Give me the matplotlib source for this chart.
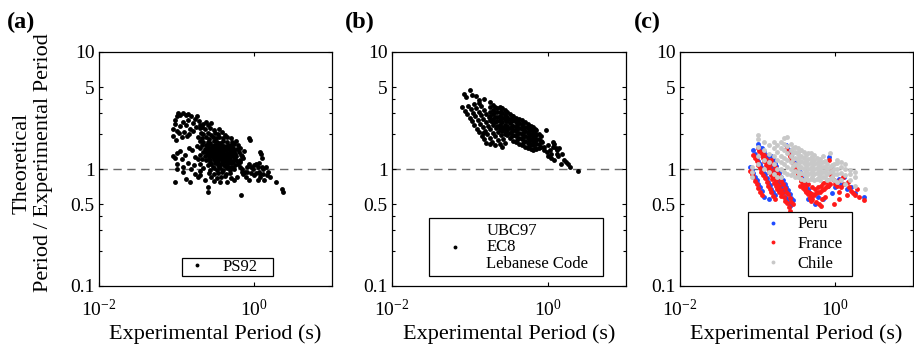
import matplotlib
matplotlib.use("Agg")
import matplotlib.pyplot as plt
from matplotlib.ticker import FixedLocator, FixedFormatter, NullFormatter, NullLocator

plt.rcParams['font.family'] = ['Liberation Serif', 'DejaVu Serif']
plt.rcParams['mathtext.fontset'] = 'custom'
plt.rcParams['mathtext.rm'] = 'Liberation Serif'
plt.rcParams['mathtext.it'] = 'Liberation Serif:italic'
plt.rcParams['mathtext.bf'] = 'Liberation Serif:bold'

# ---------------- data ----------------
# (a) PS92: experimental period (s) and theoretical/experimental ratio
ps92_tl_T = [0.095, 0.100, 0.105, 0.112, 0.120, 0.130, 0.140, 0.155, 0.170, 0.182,
             0.090, 0.096, 0.101, 0.110, 0.121, 0.131, 0.142, 0.150, 0.162, 0.192,
             0.091, 0.099, 0.106, 0.116, 0.126, 0.136, 0.146, 0.161, 0.176, 0.201]
ps92_tl_R = [2.60, 2.85, 3.00, 2.92, 3.02, 2.88, 2.95, 2.82, 2.70, 2.86,
             2.20, 2.42, 2.12, 2.31, 2.50, 2.38, 2.62, 2.18, 2.48, 2.58,
             1.92, 1.76, 2.02, 1.86, 2.08, 1.93, 2.01, 2.12, 2.30, 2.40]

ps92_left_T = [0.090, 0.094, 0.101, 0.109, 0.118, 0.128, 0.146, 0.158, 0.171, 0.183,
               0.100, 0.121, 0.139, 0.151, 0.168, 0.188, 0.094, 0.131, 0.150, 0.121,
               0.101, 0.171, 0.190, 0.201]
ps92_left_R = [1.30, 1.24, 1.36, 1.42, 1.21, 1.31, 1.52, 1.46, 1.26, 1.56,
               1.10, 1.05, 1.12, 1.00, 1.08, 1.21, 0.77, 0.82, 0.78, 0.95,
               1.00, 0.90, 0.86, 0.96]

ps92_core_T = [
    0.22, 0.25, 0.28, 0.24,
    0.20, 0.23, 0.27, 0.30, 0.35, 0.21,
    0.205, 0.22, 0.25, 0.28, 0.31, 0.34, 0.38, 0.42,
    0.19, 0.21, 0.24, 0.26, 0.29, 0.32, 0.35, 0.39, 0.44, 0.50,
    0.20, 0.22, 0.25, 0.27, 0.30, 0.33, 0.36, 0.40, 0.45, 0.52, 0.58,
    0.21, 0.24, 0.26, 0.29, 0.31, 0.34, 0.37, 0.41, 0.46, 0.50, 0.55, 0.62,
    0.20, 0.23, 0.25, 0.28, 0.30, 0.32, 0.35, 0.38, 0.42, 0.47, 0.53, 0.60, 0.66,
    0.22, 0.24, 0.27, 0.29, 0.31, 0.34, 0.37, 0.40, 0.44, 0.49, 0.55, 0.63,
    0.20, 0.23, 0.26, 0.28, 0.30, 0.33, 0.36, 0.39, 0.43, 0.48, 0.52, 0.58, 0.70,
    0.21, 0.24, 0.27, 0.30, 0.32, 0.35, 0.38, 0.42, 0.46, 0.51, 0.57, 0.65,
    0.20, 0.25, 0.28, 0.31, 0.34, 0.37, 0.41, 0.45, 0.50, 0.56, 0.62,
    0.22, 0.27, 0.30, 0.33, 0.36, 0.40, 0.44, 0.49, 0.55,
    0.26, 0.30, 0.34, 0.38, 0.43, 0.48,
    0.28, 0.33, 0.37, 0.42, 0.50, 0.60,
    0.30, 0.36, 0.45, 0.55,
    0.255, 0.285, 0.315, 0.345, 0.385, 0.43, 0.48,
    0.26, 0.29, 0.32, 0.355, 0.39, 0.43, 0.48, 0.54,
    0.25, 0.285, 0.32, 0.35, 0.38, 0.41, 0.46, 0.50, 0.56,
    0.26, 0.29, 0.33, 0.36, 0.40, 0.44, 0.49, 0.54,
    0.27, 0.31, 0.345, 0.39, 0.43, 0.47, 0.53, 0.60,
    0.29, 0.35, 0.42, 0.47, 0.52,
]
ps92_core_R = [
    2.42, 2.36, 2.45, 2.52,
    2.22, 2.18, 2.25, 2.15, 2.20, 2.30,
    2.02, 1.98, 2.05, 1.96, 2.03, 1.99, 2.06, 1.97,
    1.86, 1.83, 1.88, 1.82, 1.87, 1.84, 1.89, 1.83, 1.86, 1.84,
    1.72, 1.69, 1.71, 1.68, 1.73, 1.70, 1.67, 1.72, 1.69, 1.71, 1.74,
    1.61, 1.59, 1.62, 1.58, 1.61, 1.60, 1.62, 1.58, 1.61, 1.59, 1.62, 1.60,
    1.51, 1.49, 1.52, 1.48, 1.50, 1.53, 1.49, 1.51, 1.48, 1.52, 1.50, 1.49, 1.51,
    1.41, 1.39, 1.42, 1.38, 1.40, 1.41, 1.39, 1.42, 1.38, 1.40, 1.41, 1.39,
    1.31, 1.29, 1.30, 1.32, 1.28, 1.31, 1.29, 1.30, 1.32, 1.28, 1.31, 1.29, 1.30,
    1.21, 1.19, 1.20, 1.22, 1.18, 1.21, 1.19, 1.20, 1.22, 1.18, 1.21, 1.19,
    1.11, 1.09, 1.10, 1.12, 1.08, 1.11, 1.09, 1.10, 1.12, 1.08, 1.11,
    1.01, 0.99, 1.02, 0.98, 1.01, 0.99, 1.02, 0.98, 1.00,
    0.93, 0.91, 0.92, 0.94, 0.90, 0.92,
    0.86, 0.84, 0.85, 0.87, 0.83, 0.85,
    0.79, 0.77, 0.78, 0.80,
    1.55, 1.56, 1.54, 1.55, 1.56, 1.54, 1.55,
    1.45, 1.46, 1.44, 1.45, 1.46, 1.44, 1.45, 1.46,
    1.35, 1.36, 1.34, 1.35, 1.36, 1.34, 1.35, 1.36, 1.34,
    1.25, 1.26, 1.24, 1.25, 1.26, 1.24, 1.25, 1.26,
    1.15, 1.16, 1.14, 1.15, 1.16, 1.14, 1.15, 1.16,
    1.05, 1.04, 1.06, 1.05, 1.04,
]

ps92_right_T = [0.65, 0.70, 0.75, 0.80, 0.85, 0.90, 0.95, 1.00, 1.05, 1.10,
                1.15, 1.20, 1.30, 1.40, 1.50, 0.72, 0.78, 0.90, 1.00, 1.10,
                1.20, 1.30, 1.35, 1.60, 0.85, 1.23, 1.25, 1.20, 0.86, 0.88,
                1.90, 2.30, 2.35, 0.68, 0.72, 0.74, 0.66, 0.69, 0.80, 1.15,
                1.25, 1.45, 1.05, 0.25, 0.25, 0.68, 0.20, 0.23]
ps92_right_R = [1.15, 1.00, 0.95, 1.05, 1.10, 1.05, 1.00, 1.08, 1.10, 1.05,
                0.95, 0.90, 1.00, 1.05, 0.95, 0.90, 0.85, 0.92, 0.88, 0.80,
                0.85, 0.90, 0.80, 0.85, 0.80, 1.35, 1.25, 1.40, 1.84, 1.78,
                0.78, 0.67, 0.63, 1.32, 1.25, 1.42, 1.05, 0.95, 0.95, 1.12,
                1.05, 0.88, 0.92, 0.70, 0.63, 0.60, 0.88, 0.80]

# (b) UBC97 / EC8 / Lebanese Code
codes_streak_T = [
    [0.080, 0.086, 0.092, 0.099, 0.106, 0.114, 0.122, 0.131, 0.141, 0.151, 0.162],
    [0.095, 0.102, 0.109, 0.117, 0.126, 0.135, 0.145, 0.156, 0.167, 0.180, 0.193, 0.207],
    [0.112, 0.120, 0.129, 0.138, 0.148, 0.159, 0.171, 0.183, 0.197, 0.211, 0.227, 0.243, 0.260],
    [0.130, 0.140, 0.150, 0.161, 0.173, 0.186, 0.200, 0.214, 0.230, 0.247, 0.265, 0.285],
]
codes_streak_R = [
    [3.38, 3.14, 2.93, 2.73, 2.55, 2.37, 2.21, 2.06, 1.91, 1.79, 1.67],
    [3.47, 3.24, 3.03, 2.82, 2.62, 2.44, 2.28, 2.12, 1.98, 1.83, 1.71, 1.59],
    [3.57, 3.33, 3.10, 2.90, 2.70, 2.52, 2.34, 2.19, 2.03, 1.90, 1.76, 1.65, 1.54],
    [3.69, 3.43, 3.20, 2.98, 2.77, 2.58, 2.40, 2.24, 2.09, 1.94, 1.81, 1.68],
]
codes_cloud_T = [0.18, 0.20, 0.22, 0.24, 0.26, 0.28, 0.30, 0.33, 0.36, 0.39,
                 0.42, 0.46, 0.50, 0.55, 0.60, 0.65, 0.70, 0.76, 0.82,
                 0.21, 0.25, 0.29, 0.345, 0.405, 0.48, 0.575, 0.675]
codes_cloud_R = [
    [2.60, 2.85, 3.10, 3.40, 3.75],
    [2.50, 2.70, 2.95, 3.20, 3.50],
    [2.35, 2.55, 2.80, 3.05, 3.35],
    [2.20, 2.40, 2.60, 2.85, 3.10, 3.40],
    [2.10, 2.30, 2.50, 2.75, 3.00, 3.30],
    [2.00, 2.20, 2.40, 2.65, 2.90, 3.20],
    [1.95, 2.15, 2.35, 2.55, 2.80, 3.05],
    [1.85, 2.05, 2.25, 2.45, 2.70, 2.95],
    [1.75, 1.95, 2.15, 2.35, 2.60, 2.85],
    [1.70, 1.90, 2.10, 2.30, 2.50, 2.75],
    [1.65, 1.85, 2.05, 2.25, 2.45, 2.65],
    [1.60, 1.80, 1.98, 2.18, 2.38, 2.60],
    [1.55, 1.72, 1.90, 2.10, 2.30, 2.50],
    [1.50, 1.68, 1.85, 2.05, 2.25, 2.42],
    [1.47, 1.62, 1.80, 1.98, 2.18, 2.35],
    [1.45, 1.60, 1.75, 1.92, 2.10, 2.28],
    [1.48, 1.62, 1.78, 1.95, 2.15],
    [1.50, 1.65, 1.82, 2.00],
    [1.55, 1.75, 1.90],
    [2.52, 2.80, 3.08, 3.38],
    [2.25, 2.50, 2.78, 3.05, 3.30],
    [2.08, 2.30, 2.55, 2.80, 3.05],
    [1.90, 2.12, 2.35, 2.58, 2.82],
    [1.78, 1.98, 2.18, 2.40, 2.62],
    [1.68, 1.86, 2.05, 2.25, 2.48],
    [1.58, 1.75, 1.92, 2.12, 2.32],
    [1.52, 1.68, 1.85, 2.02, 2.20],
]
codes_other_T = [0.88, 0.94, 0.97, 1.00, 1.05, 1.10, 1.15, 1.20, 1.25, 1.30,
                 1.35, 1.40, 1.50, 1.60, 1.70, 1.80, 1.90, 2.44, 0.85, 0.90,
                 1.00, 1.10, 1.20, 1.45, 1.15, 1.30, 0.085, 0.090, 0.100, 0.105,
                 0.120, 0.130, 0.150, 0.145, 0.180]
codes_other_R = [1.55, 2.15, 1.40, 1.60, 1.45, 1.35, 1.55, 1.62, 1.50, 1.45,
                 1.30, 1.50, 1.35, 1.20, 1.15, 1.10, 1.05, 0.97, 1.70, 1.45,
                 1.30, 1.25, 1.20, 1.10, 1.70, 1.35, 4.40, 4.10, 4.70, 4.30,
                 4.20, 3.90, 4.00, 2.03, 1.64]

# (c) Peru, France, Chile
streak_T = [
    [0.080, 0.084, 0.088, 0.093, 0.097, 0.102, 0.107, 0.113],
    [0.088, 0.092, 0.097, 0.102, 0.107, 0.112, 0.118, 0.124, 0.130, 0.136, 0.143, 0.150, 0.158, 0.166],
    [0.100, 0.105, 0.110, 0.116, 0.122, 0.128, 0.134, 0.141, 0.148, 0.155, 0.163, 0.171, 0.180, 0.189, 0.198],
    [0.115, 0.121, 0.127, 0.133, 0.140, 0.147, 0.154, 0.162, 0.170, 0.178, 0.187, 0.197, 0.206, 0.217, 0.228,
     0.239, 0.251, 0.264],
    [0.150, 0.158, 0.165, 0.174, 0.182, 0.191, 0.201, 0.211, 0.222, 0.233, 0.244, 0.257, 0.270, 0.283],
    [0.235, 0.247, 0.259, 0.272, 0.286, 0.300, 0.315, 0.331, 0.347, 0.365, 0.383, 0.402, 0.422, 0.443, 0.465],
    [0.300, 0.315, 0.331, 0.347, 0.365, 0.383, 0.402, 0.422, 0.443, 0.465, 0.489],
]
peru_streak_R = [
    [1.05, 0.98, 0.92, 0.86, 0.80, 0.75, 0.70, 0.65],
    [1.45, 1.35, 1.26, 1.18, 1.10, 1.03, 0.96, 0.90, 0.84, 0.78, 0.73, 0.68, 0.64, 0.60],
    [1.65, 1.54, 1.44, 1.34, 1.26, 1.17, 1.10, 1.02, 0.96, 0.89, 0.83, 0.78, 0.73, 0.68, 0.64],
    [1.52, 1.42, 1.33, 1.24, 1.16, 1.08, 1.01, 0.94, 0.88, 0.82, 0.77, 0.72, 0.67, 0.63, 0.58,
     0.55, 0.51, 0.48],
    [1.30, 1.21, 1.13, 1.06, 0.99, 0.92, 0.86, 0.80, 0.75, 0.70, 0.66, 0.61, 0.57, 0.54],
    [1.60, 1.49, 1.40, 1.30, 1.22, 1.14, 1.06, 0.99, 0.93, 0.86, 0.81, 0.75, 0.70, 0.66, 0.61],
    [1.15, 1.07, 1.00, 0.94, 0.88, 0.82, 0.76, 0.71, 0.67, 0.62, 0.58],
]
france_streak_R = [
    [0.97, 0.90, 0.85, 0.79, 0.74, 0.69, 0.64, 0.60],
    [1.33, 1.24, 1.16, 1.09, 1.01, 0.95, 0.88, 0.83, 0.77, 0.72, 0.67, 0.63, 0.59, 0.55],
    [1.52, 1.42, 1.32, 1.23, 1.16, 1.08, 1.01, 0.94, 0.88, 0.82, 0.76, 0.72, 0.67, 0.63, 0.59],
    [1.40, 1.31, 1.22, 1.14, 1.07, 0.99, 0.93, 0.86, 0.81, 0.75, 0.71, 0.66, 0.62, 0.58, 0.53,
     0.51, 0.47, 0.44],
    [1.20, 1.11, 1.04, 0.98, 0.91, 0.85, 0.79, 0.74, 0.69, 0.64, 0.61, 0.56, 0.52, 0.50],
    [1.47, 1.37, 1.29, 1.20, 1.12, 1.05, 0.98, 0.91, 0.86, 0.79, 0.75, 0.69, 0.64, 0.61, 0.56],
    [1.06, 0.98, 0.92, 0.86, 0.81, 0.75, 0.70, 0.65, 0.62, 0.57, 0.53],
]
peru_other_T = [0.60, 0.70, 0.90, 1.00, 1.10, 1.20, 1.40, 1.60, 1.80, 2.35,
                0.55, 0.45, 0.80, 1.30, 0.83, 0.12, 0.14, 0.90]
peru_other_R = [0.58, 0.55, 0.62, 0.70, 0.82, 0.75, 0.68, 0.70, 0.62, 0.58,
                0.50, 0.55, 0.72, 0.85, 1.27, 0.58, 0.55, 1.00]
france_other_T = [0.35, 0.38, 0.41, 0.44, 0.47, 0.50, 0.53, 0.56, 0.60, 0.64,
                  0.68, 0.72, 0.76, 0.80, 0.85, 0.40, 0.45, 0.50, 0.55, 0.60,
                  0.65, 0.70, 0.75, 0.80, 0.50, 0.56, 0.62, 0.68, 0.74,
                  0.83, 0.86, 0.90, 0.95, 1.00, 1.05, 1.10, 1.15, 1.20, 1.30,
                  1.40, 1.50, 1.60, 1.70, 1.80, 2.35, 0.66, 0.95, 1.10, 1.25,
                  1.45, 1.90, 2.00, 0.88]
france_other_R = [0.72, 0.69, 0.66, 0.64, 0.62, 0.61, 0.60, 0.62, 0.63, 0.64,
                  0.66, 0.68, 0.70, 0.72, 0.75, 0.78, 0.74, 0.70, 0.68, 0.70,
                  0.72, 0.76, 0.78, 0.80, 0.55, 0.52, 0.50, 0.55, 0.58,
                  1.20, 0.90, 0.85, 0.80, 0.75, 0.72, 0.64, 0.80, 0.70, 0.75,
                  0.60, 0.70, 0.65, 0.62, 0.60, 0.54, 0.48, 0.50, 0.55, 0.85,
                  0.78, 0.68, 0.58, 1.00]
chile_T = [0.085, 0.10, 0.12, 0.14, 0.16, 0.18, 0.20, 0.22, 0.24, 0.27,
           0.30, 0.33, 0.36, 0.40, 0.44, 0.48, 0.53, 0.58, 0.64, 0.70,
           0.78, 0.86, 0.95, 1.05, 1.20, 1.35, 1.55, 1.80, 2.40,
           0.285, 0.345, 0.42, 0.505, 0.61, 0.74, 0.90]
chile_R = [
    [0.85, 0.95, 1.05],
    [1.10, 1.30, 1.55, 1.80, 1.95],
    [1.00, 1.20, 1.45, 1.70],
    [0.95, 1.15, 1.35, 1.60],
    [0.90, 1.10, 1.30, 1.50, 1.70],
    [0.85, 1.00, 1.20, 1.40, 1.60],
    [0.85, 1.00, 1.15, 1.30, 1.50, 1.70],
    [0.95, 1.10, 1.25, 1.45, 1.65, 1.85],
    [0.90, 1.05, 1.20, 1.38, 1.58, 1.88],
    [0.88, 1.00, 1.15, 1.30, 1.45, 1.62],
    [0.85, 0.97, 1.10, 1.25, 1.40, 1.55],
    [0.85, 0.95, 1.07, 1.20, 1.35, 1.50],
    [0.82, 0.92, 1.04, 1.16, 1.30, 1.45],
    [0.80, 0.90, 1.00, 1.12, 1.25, 1.40],
    [0.80, 0.90, 1.00, 1.10, 1.22, 1.36],
    [0.82, 0.92, 1.02, 1.13, 1.25, 1.38],
    [0.80, 0.90, 1.00, 1.10, 1.20, 1.32],
    [0.82, 0.92, 1.02, 1.12, 1.25],
    [0.80, 0.90, 1.00, 1.10, 1.22],
    [0.85, 0.95, 1.05, 1.15, 1.28],
    [0.80, 0.90, 1.00, 1.10],
    [0.82, 0.95, 1.05, 1.38],
    [0.80, 0.90, 1.00, 1.10],
    [0.78, 0.90, 1.00, 1.12, 1.20],
    [0.80, 0.92, 1.05, 1.15],
    [0.75, 0.88, 1.00, 1.10],
    [0.80, 0.90, 0.98],
    [0.72, 0.85, 0.95],
    [0.68],
    [0.93, 1.07, 1.22, 1.37, 1.52],
    [0.90, 1.01, 1.13, 1.27, 1.42],
    [0.85, 0.95, 1.06, 1.18, 1.31],
    [0.85, 0.95, 1.05, 1.16, 1.27],
    [0.86, 0.96, 1.06, 1.17],
    [0.85, 0.95, 1.05, 1.18],
    [0.85, 0.96, 1.08],
]

y_ticks = [0.1, 0.5, 1, 5, 10]
y_ticklabels = ['0.1', '0.5', '1', '5', '10']
y_minor = [0.2, 0.3, 0.4, 2, 3, 4]
x_ticks = [0.01, 1]
x_ticklabels = [r'$10^{-2}$', r'$10^{0}$']


def flatten(xs, ys):
    out_x, out_y = [], []
    for x, y in zip(xs, ys):
        out_x.extend(x)
        out_y.extend(y)
    return out_x, out_y


def columns(xs, cols):
    out_x, out_y = [], []
    for x, col in zip(xs, cols):
        out_x.extend([x] * len(col))
        out_y.extend(col)
    return out_x, out_y


ps92_T = ps92_tl_T + ps92_left_T + ps92_core_T + ps92_right_T
ps92_R = ps92_tl_R + ps92_left_R + ps92_core_R + ps92_right_R

st_x, st_y = flatten(codes_streak_T, codes_streak_R)
cl_x, cl_y = columns(codes_cloud_T, codes_cloud_R)
codes_T = st_x + cl_x + codes_other_T
codes_R = st_y + cl_y + codes_other_R

px, py = flatten(streak_T, peru_streak_R)
peru_T = px + peru_other_T
peru_R = py + peru_other_R
fx, fy = flatten(streak_T, france_streak_R)
france_T = fx + france_other_T
france_R = fy + france_other_R
chile_x, chile_y = columns(chile_T, chile_R)

# ---------------- figure ----------------
W, H = 914, 346
fig = plt.figure(figsize=(W / 100, H / 100), dpi=100)


def axes_px(left, right, top, bottom):
    return fig.add_axes([left / W, (H - bottom) / H, (right - left) / W, (bottom - top) / H])


ax_a = axes_px(99, 332, 52, 286)
ax_b = axes_px(392, 626, 52, 286)
ax_c = axes_px(680, 913, 52, 286)

TICK_FS = 14
LABEL_FS = 16
LEG_FS = 12
MS = 3.5

for ax in (ax_a, ax_b, ax_c):
    ax.set_xscale('log')
    ax.set_yscale('log')
    ax.set_xlim(0.01, 10)
    ax.set_ylim(0.1, 10)
    ax.axhline(1, color='#6a6a6a', lw=1.0, dashes=(6, 4), zorder=1)
    ax.xaxis.set_major_locator(FixedLocator(x_ticks))
    ax.xaxis.set_major_formatter(FixedFormatter(x_ticklabels))
    ax.xaxis.set_minor_locator(NullLocator())
    ax.yaxis.set_major_locator(FixedLocator(y_ticks))
    ax.yaxis.set_major_formatter(FixedFormatter(y_ticklabels))
    ax.yaxis.set_minor_locator(FixedLocator(y_minor))
    ax.yaxis.set_minor_formatter(NullFormatter())
    ax.tick_params(which='both', direction='in', top=True, right=True,
                   labelsize=TICK_FS, width=0.8, colors='black')
    ax.tick_params(which='major', length=3)
    ax.tick_params(which='minor', length=2)
    ax.tick_params(axis='x', pad=9)
    ax.tick_params(axis='y', pad=3)
    for s in ax.spines.values():
        s.set_linewidth(0.9)
    ax.set_xlabel('Experimental Period (s)', fontsize=LABEL_FS, labelpad=3.5)

leg_kw = dict(fontsize=LEG_FS, frameon=True, fancybox=False, shadow=False,
              framealpha=1, edgecolor='black', borderaxespad=0, mode='expand',
              loc='lower left', markerscale=0.8)

# (a)
ax_a.plot(ps92_T, ps92_R, 'o', ms=MS, color='black', mec='none', label='PS92', zorder=3)
leg = ax_a.legend(bbox_to_anchor=(0.356, 0.043, 0.391, 0.07), borderpad=0.05,
                  handlelength=1.7, handletextpad=0.7, **leg_kw)
leg.get_frame().set_linewidth(0.9)

# (b)
ax_b.plot(codes_T, codes_R, 'o', ms=MS, color='black', mec='none',
          label='UBC97\nEC8\nLebanese Code', zorder=3)
leg = ax_b.legend(bbox_to_anchor=(0.158, 0.043, 0.744, 0.26), borderpad=0.25,
                  handlelength=2.6, handletextpad=0.6, **leg_kw)
leg.get_frame().set_linewidth(0.9)
for t in leg.get_texts():
    t.set_linespacing(1.05)

# (c)
ax_c.plot(peru_T, peru_R, 'o', ms=MS, color='#1f4bff', mec='none', label='Peru', zorder=3)
ax_c.plot(france_T, france_R, 'o', ms=MS, color='#ff1a1a', mec='none', label='France', zorder=3)
ax_c.plot(chile_x, chile_y, 'o', ms=MS, color='#c8c8c8', mec='none', label='Chile', zorder=3)
leg = ax_c.legend(bbox_to_anchor=(0.292, 0.043, 0.446, 0.27), borderpad=0.25,
                  handlelength=2.5, handletextpad=0.2, labelspacing=0.22, **leg_kw)
leg.get_frame().set_linewidth(0.9)

# y label for the first panel
fig.text(33 / W, (H - 163) / H, 'Theoretical\nPeriod / Experimental Period',
         rotation=90, ha='center', va='center', multialignment='center',
         fontsize=LABEL_FS, linespacing=1.15)

# panel letters
for x0, letter in ((7, '(a)'), (345, '(b)'), (634, '(c)')):
    fig.text(x0 / W, (H - 22) / H, letter, ha='left', va='center',
             fontsize=17.5, fontweight='bold')

fig.savefig('out.png', dpi=100)
